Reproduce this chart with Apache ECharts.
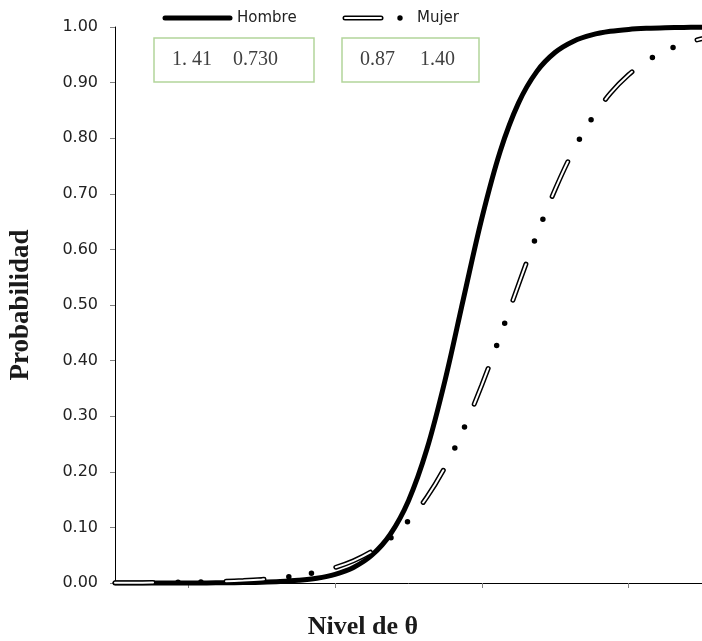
<!DOCTYPE html>
<html>
<head>
<meta charset="utf-8">
<script src="https://cdn.jsdelivr.net/npm/echarts@6/dist/echarts.min.js"></script>
<style>
html,body{margin:0;padding:0;background:#fff;}
#c{width:702px;height:641px;}
</style>
</head>
<body>
<div id="c"></div>
<script>
// ---- data ----
const theta = [-4, -3.75, -3.5, -3.25, -3, -2.75, -2.5, -2.25, -2, -1.75, -1.5, -1.25, -1, -0.75, -0.5, -0.25,
  0, 0.25, 0.5, 0.75, 1, 1.25, 1.5, 1.75, 2, 2.25, 2.5, 2.75, 3, 3.25, 3.5, 3.75, 4];
const hombre = [0.0000, 0.0000, 0.0000, 0.0001, 0.0001, 0.0002, 0.0004, 0.0008, 0.0014, 0.0026, 0.0048, 0.0086,
  0.0156, 0.0280, 0.0499, 0.0872, 0.148, 0.2404, 0.3656, 0.512, 0.6564, 0.7767, 0.8636, 0.9202, 0.9545,
  0.9745, 0.9858, 0.9922, 0.9957, 0.9976, 0.9987, 0.9993, 0.9996];
const mujer = [0.0003, 0.0005, 0.0007, 0.0010, 0.0015, 0.0022, 0.0031, 0.0045, 0.0065, 0.0094, 0.0135, 0.0195,
  0.0279, 0.0399, 0.0568, 0.0802, 0.112, 0.1543, 0.209, 0.2767, 0.3563, 0.4448, 0.5369, 0.6266, 0.7083,
  0.7785, 0.8357, 0.8805, 0.9142, 0.9391, 0.9571, 0.970, 0.979];
const seriesNames = ['Hombre', 'Mujer'];
const paramsHombre = ['1. 41', '0.730'];
const paramsMujer = ['0.87', '1.40'];
const xTickValues = [-3, -1, 1, 3];
const yTickStep = 0.1;
const xTitle = 'Nivel de θ';
const yTitle = 'Probabilidad';

// ---- chart ----
const chart = echarts.init(document.getElementById('c'), null, {renderer: 'canvas'});
const pair = ys => theta.map((t, i) => [t, ys[i]]);
const PERIOD = 111, DASH = 38;
const baseLine = {type: 'line', showSymbol: false, smooth: 0.35, clip: false, silent: true};

const option = {
  animation: false,
  backgroundColor: '#fff',
  grid: {left: 113, right: -4, top: 27, bottom: 58},
  xAxis: {
    type: 'value', min: -4, max: 4,
    axisLine: {show: true, onZero: false, lineStyle: {color: '#000', width: 1}},
    axisTick: {show: true, customValues: xTickValues, length: 5, lineStyle: {color: '#808080'}},
    axisLabel: {show: false},
    splitLine: {show: false}
  },
  yAxis: {
    type: 'value', min: 0, max: 1, interval: yTickStep,
    name: yTitle, nameLocation: 'middle', nameGap: 80, nameRotate: 90,
    nameTextStyle: {fontFamily: 'Liberation Serif', fontWeight: 'bold', fontSize: 27, color: '#1a1a1a'},
    axisLine: {show: true, onZero: false, lineStyle: {color: '#000', width: 1}},
    axisTick: {show: true, length: 5, lineStyle: {color: '#808080'}},
    axisLabel: {fontFamily: 'DejaVu Sans', fontSize: 16, color: '#222', margin: 17,
      formatter: v => v.toFixed(2)},
    splitLine: {show: false}
  },
  series: [
    Object.assign({}, baseLine, {name: seriesNames[0], data: pair(hombre), z: 2,
      lineStyle: {color: '#000', width: 5, cap: 'round'}}),
    Object.assign({}, baseLine, {name: seriesNames[1], data: pair(mujer), z: 3,
      lineStyle: {color: '#000', width: 5, type: [DASH, PERIOD - DASH], cap: 'round'}}),
    Object.assign({}, baseLine, {name: seriesNames[1] + ' ', data: pair(mujer), z: 3,
      lineStyle: {color: '#fff', width: 2, type: [DASH, PERIOD - DASH], cap: 'round'}}),
    Object.assign({}, baseLine, {name: seriesNames[1] + '  ', data: pair(mujer), z: 3,
      lineStyle: {color: '#000', width: 5.5, type: [0, 23, 0, 88], dashOffset: 48, cap: 'round'}})
  ],
  graphic: [
    {type: 'line', shape: {x1: 165, y1: 18, x2: 230, y2: 18}, style: {stroke: '#000', lineWidth: 5, lineCap: 'round'}},
    {type: 'text', x: 237, y: 18, style: {text: seriesNames[0], fontFamily: 'DejaVu Sans', fontSize: 15, fill: '#222',
      textVerticalAlign: 'middle', verticalAlign: 'middle'}},
    {type: 'line', shape: {x1: 345, y1: 18, x2: 381, y2: 18}, style: {stroke: '#000', lineWidth: 5, lineCap: 'round'}},
    {type: 'line', shape: {x1: 345, y1: 18, x2: 381, y2: 18}, style: {stroke: '#fff', lineWidth: 2, lineCap: 'round'}},
    {type: 'circle', shape: {cx: 400, cy: 18, r: 2.7}, style: {fill: '#000'}},
    {type: 'text', x: 417, y: 18, style: {text: seriesNames[1], fontFamily: 'DejaVu Sans', fontSize: 15, fill: '#222',
      textVerticalAlign: 'middle', verticalAlign: 'middle'}},
    {type: 'rect', shape: {x: 154, y: 38, width: 160, height: 44}, style: {fill: 'none', stroke: '#b3d59b', lineWidth: 1.5}},
    {type: 'rect', shape: {x: 342, y: 38, width: 137, height: 44}, style: {fill: 'none', stroke: '#b3d59b', lineWidth: 1.5}},
    {type: 'text', x: 172, y: 60, style: {text: paramsHombre[0], fontFamily: 'Liberation Serif', fontSize: 20, fill: '#404040',
      textVerticalAlign: 'middle', verticalAlign: 'middle'}},
    {type: 'text', x: 233, y: 60, style: {text: paramsHombre[1], fontFamily: 'Liberation Serif', fontSize: 20, fill: '#404040',
      textVerticalAlign: 'middle', verticalAlign: 'middle'}},
    {type: 'text', x: 360, y: 60, style: {text: paramsMujer[0], fontFamily: 'Liberation Serif', fontSize: 20, fill: '#404040',
      textVerticalAlign: 'middle', verticalAlign: 'middle'}},
    {type: 'text', x: 420, y: 60, style: {text: paramsMujer[1], fontFamily: 'Liberation Serif', fontSize: 20, fill: '#404040',
      textVerticalAlign: 'middle', verticalAlign: 'middle'}},
    {type: 'text', x: 363, y: 627, style: {text: xTitle, fontFamily: 'Liberation Serif', fontWeight: 'bold', fontSize: 26,
      fill: '#1a1a1a', textAlign: 'center', align: 'center', textVerticalAlign: 'middle', verticalAlign: 'middle'}}
  ]
};
chart.setOption(option);
</script>
</body>
</html>
